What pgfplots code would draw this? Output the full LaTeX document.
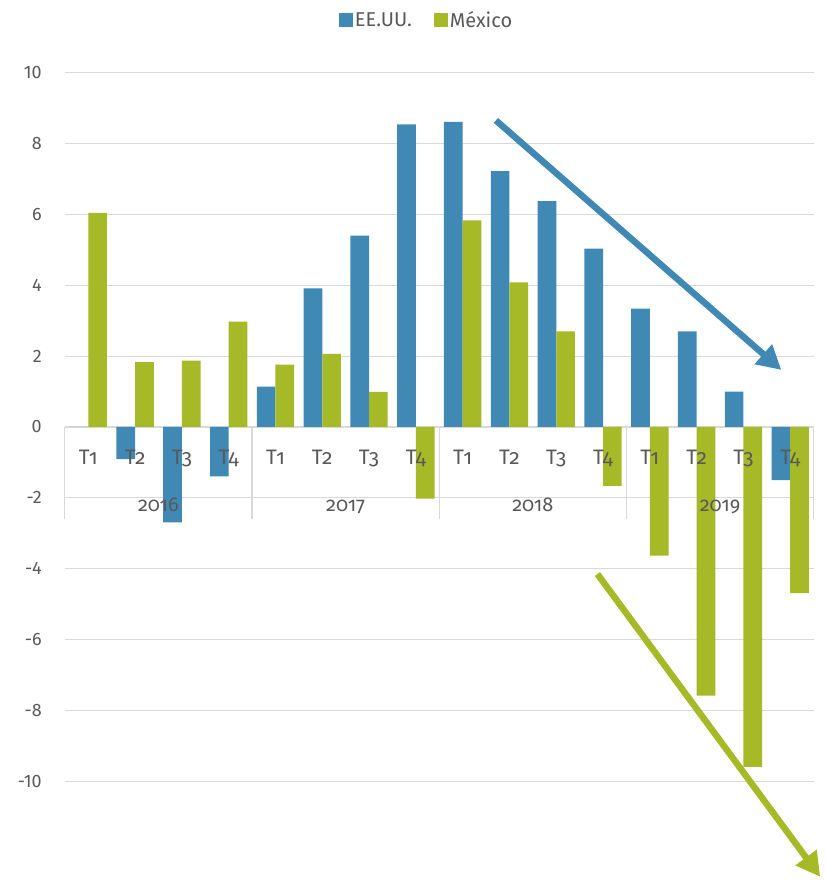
\documentclass[border=0pt]{standalone}
\usepackage{pgfplots}
\pgfplotsset{compat=1.18}
\usepackage{fontspec}
\setmainfont{Fira Sans}
\newfontfamily\osf{Fira Sans}[Numbers=OldStyle]
\usetikzlibrary{arrows.meta}
\definecolor{usblue}{HTML}{3F89B4}
\definecolor{mxgreen}{HTML}{A6B927}
\definecolor{gridc}{HTML}{D9D9D9}
\definecolor{txt}{HTML}{595959}

\pgfplotstableread{
idx us mx
0 0 6.04
1 -0.91 1.83
2 -2.69 1.87
3 -1.39 2.97
4 1.14 1.76
5 3.91 2.06
6 5.40 0.99
7 8.54 -2.02
8 8.61 5.83
9 7.22 4.08
10 6.37 2.70
11 5.03 -1.66
12 3.34 -3.63
13 2.70 -7.58
14 1.00 -9.59
15 -1.50 -4.69
}\datatable

\newcommand{\qlab}[2]{\node[anchor=base, yshift=-38pt, font=\osf\fontsize{21}{21}\selectfont, text=txt] at (axis cs:#1,0) {#2};}
\newcommand{\ylab}[2]{\node[anchor=base, yshift=-85pt, font=\osf\fontsize{20}{20}\selectfont, text=txt] at (axis cs:#1,0) {#2};}
\newcommand{\sep}[1]{\draw[gridc, line width=1.2pt] (axis cs:#1,0) -- ([yshift=-92pt]axis cs:#1,0);}

\begin{document}
\begin{tikzpicture}
\begin{axis}[
  scale only axis,
  width=750pt, height=807.3pt,
  xmin=-0.5, xmax=15.5,
  ymin=-12.74, ymax=10,
  clip=false,
  ybar=0pt, bar width=18.7pt,
  legend image code/.code={\fill[#1] (-4pt,-7pt) rectangle (10pt,7pt);},
  axis x line*=middle,
  axis y line*=left,
  x axis line style={draw=none},
  y axis line style={draw=none},
  xtick=\empty,
  ytick={-10,-8,-6,-4,-2,0,2,4,6,8,10},
  ytick style={draw=none},
  major tick length=0pt,
  yticklabel style={anchor=east, inner sep=0pt, xshift=-23pt, font=\fontsize{18}{18}\selectfont, text=txt},
  /pgf/number format/assume math mode=true,
  ymajorgrids,
  grid style={draw=gridc, line width=1.2pt},
  legend columns=-1,
  legend style={at={(0.483,1)}, anchor=center, yshift=52.7pt, draw=none, fill=none,
    font=\fontsize{20}{20}\selectfont, text=txt,
    /tikz/every even column/.append style={column sep=20pt}},
]
% category axis lines
\draw[gridc, line width=1.2pt] (axis cs:-0.5,0) -- (axis cs:15.5,0);
\draw[gridc, line width=1.2pt] ([yshift=-71pt]axis cs:-0.5,0) -- ([yshift=-71pt]axis cs:15.5,0);
\sep{-0.5}\sep{3.5}\sep{7.5}\sep{11.5}\sep{15.5}

\addplot[fill=usblue, draw=none] table[x=idx, y=us] {\datatable};
\addplot[fill=mxgreen, draw=none] table[x=idx, y=mx] {\datatable};
\legend{EE.UU., México}

\qlab{0}{T1}\qlab{1}{T2}\qlab{2}{T3}\qlab{3}{T4}
\qlab{4}{T1}\qlab{5}{T2}\qlab{6}{T3}\qlab{7}{T4}
\qlab{8}{T1}\qlab{9}{T2}\qlab{10}{T3}\qlab{11}{T4}
\qlab{12}{T1}\qlab{13}{T2}\qlab{14}{T3}\qlab{15}{T4}
\ylab{1.5}{2016}\ylab{5.5}{2017}\ylab{9.5}{2018}\ylab{13.5}{2019}

\draw[usblue, line width=6.5pt, -{Triangle[length=24pt,width=25pt]}] (axis cs:8.71,8.65) -- (axis cs:14.81,1.61);
\draw[mxgreen, line width=6.5pt, -{Triangle[length=24pt,width=25pt]}] (axis cs:10.88,-4.15) -- (axis cs:15.64,-12.69);
\end{axis}
\path ([xshift=-65pt]current axis.south west) -- ([xshift=12pt,yshift=72.7pt]current axis.north east);
\end{tikzpicture}
\end{document}
